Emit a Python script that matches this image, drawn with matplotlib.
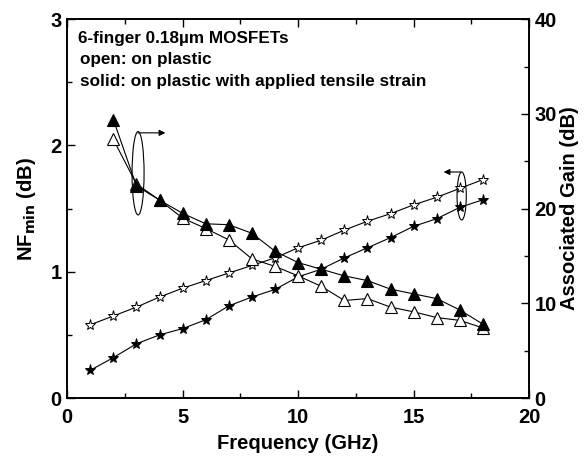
import numpy as np
import matplotlib
matplotlib.use('Agg')
import matplotlib.pyplot as plt
from matplotlib.patches import Ellipse

plt.rcParams['font.family'] = ['Liberation Sans', 'DejaVu Sans']
plt.rcParams['font.weight'] = 'bold'

# NFmin (left axis, dB), 1-18 GHz
freq_nf = [1, 2, 3, 4, 5, 6, 7, 8, 9, 10, 11, 12, 13, 14, 15, 16, 17, 18]
nf_open = [0.58, 0.65, 0.72, 0.80, 0.87, 0.93, 0.99, 1.05, 1.11, 1.19, 1.25,
           1.33, 1.40, 1.46, 1.53, 1.59, 1.66, 1.73]
nf_solid = [0.22, 0.32, 0.43, 0.50, 0.55, 0.62, 0.73, 0.80, 0.86, 0.96, 1.02,
            1.11, 1.19, 1.27, 1.36, 1.42, 1.51, 1.57]

# Associated gain (right axis, dB), 2-18 GHz
freq_ga = [2, 3, 4, 5, 6, 7, 8, 9, 10, 11, 12, 13, 14, 15, 16, 17, 18]
ga_open = [27.3, 22.6, 20.9, 19.0, 17.9, 16.7, 14.7, 13.9, 12.9, 11.8,
           10.3, 10.5, 9.6, 9.1, 8.5, 8.2, 7.4]
ga_solid = [29.4, 22.4, 20.9, 19.5, 18.4, 18.3, 17.4, 15.5, 14.3, 13.6,
            12.9, 12.4, 11.5, 11.0, 10.5, 9.3, 7.8]

fig = plt.figure(figsize=(5.84, 4.57), dpi=100)
ax = fig.add_axes([0.115, 0.129, 0.791, 0.829])
ax2 = ax.twinx()

ax.plot(freq_nf, nf_open, color='black', lw=0.8, marker='*', ms=8,
        mfc='white', mec='black', mew=0.7)
ax.plot(freq_nf, nf_solid, color='black', lw=0.8, marker='*', ms=8,
        mfc='black', mec='black', mew=0.7)
ax2.plot(freq_ga, ga_open, color='black', lw=0.8, marker='^', ms=9,
         mfc='white', mec='black', mew=0.8)
ax2.plot(freq_ga, ga_solid, color='black', lw=0.8, marker='^', ms=9,
         mfc='black', mec='black', mew=0.8)

ax.set_xlim(0, 20)
ax.set_ylim(0, 3)
ax2.set_ylim(0, 40)
ax.set_xticks([0, 5, 10, 15, 20])
ax.set_xticks([2.5, 7.5, 12.5, 17.5], minor=True)
ax.set_yticks([0, 1, 2, 3])
ax.set_yticks([0.5, 1.5, 2.5], minor=True)
ax2.set_yticks([0, 10, 20, 30, 40])
ax2.set_yticks([5, 15, 25, 35], minor=True)

for a in (ax, ax2):
    a.tick_params(which='major', direction='in', length=6, width=1,
                  labelsize=14.5)
    a.tick_params(which='minor', direction='in', length=3.5, width=1)
    for s in a.spines.values():
        s.set_linewidth(1.2)
ax.tick_params(which='both', top=True)
ax.tick_params(axis='x', pad=7)
ax.tick_params(axis='y', pad=4)
ax2.tick_params(axis='y', pad=4)
for lab in ax.get_xticklabels() + ax.get_yticklabels() + ax2.get_yticklabels():
    lab.set_fontweight('bold')

ax.set_xlabel('Frequency (GHz)', fontsize=14.5, fontweight='bold', labelpad=5)
ax.set_ylabel('NF$_{\\mathbf{min}}$ (dB)', fontsize=14.5, fontweight='bold', labelpad=9)
ax2.set_ylabel('Associated Gain (dB)', fontsize=14.5, fontweight='bold', labelpad=2)

ax.text(0.45, 2.81, '6-finger 0.18\u00b5m MOSFETs', fontsize=12.3,
        fontweight='bold', va='baseline')
ax.text(0.55, 2.645, 'open: on plastic', fontsize=12.3, fontweight='bold',
        va='baseline')
ax.text(0.55, 2.47, 'solid: on plastic with applied tensile strain',
        fontsize=12.3, fontweight='bold', va='baseline')

# ellipse + arrow pointing to right axis (gain)
ax.add_patch(Ellipse((3.07, 1.78), 0.52, 0.66, fill=False, lw=0.8, color='black'))
ax.annotate('', xy=(4.25, 2.10), xytext=(3.07, 2.10),
            arrowprops=dict(arrowstyle='-|>', color='black', lw=0.8,
                            mutation_scale=9, shrinkA=0, shrinkB=0))
# ellipse + arrow pointing to left axis (NFmin)
ax.add_patch(Ellipse((17.08, 1.60), 0.4, 0.38, fill=False, lw=0.8, color='black'))
ax.annotate('', xy=(16.3, 1.79), xytext=(17.05, 1.79),
            arrowprops=dict(arrowstyle='-|>', color='black', lw=0.8,
                            mutation_scale=9, shrinkA=0, shrinkB=0))

fig.savefig('out.png', dpi=100)
